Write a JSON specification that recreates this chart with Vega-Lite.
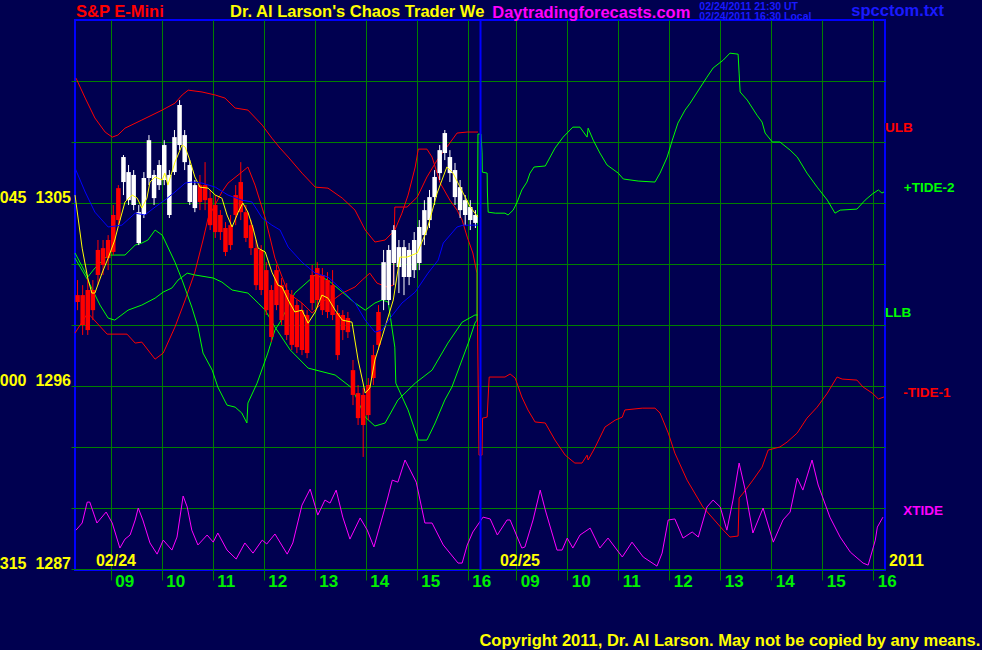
{
"$schema":"https://vega.github.io/schema/vega-lite/v6.json",
"width":810,"height":550,
"autosize":{"type":"none"},
"padding":{"left":75,"top":20,"right":97,"bottom":80},
"background":"#000050",
"config":{"view":{"stroke":"#0000ff","strokeWidth":2,"fill":"#000050"}},
"resolve":{"scale":{"color":"independent"}},
"datasets":{
"bands":[
{"s":"R1","t":8.32,"p":1311.14},{"s":"R1","t":8.50,"p":1310.16},{"s":"R1","t":8.69,"p":1309.18},{"s":"R1","t":8.89,"p":1308.49},{"s":"R1","t":9.03,"p":1308.24},{"s":"R1","t":9.14,"p":1308.34},{"s":"R1","t":9.28,"p":1308.68},{"s":"R1","t":9.61,"p":1309.08},{"s":"R1","t":10.01,"p":1309.57},{"s":"R1","t":10.26,"p":1309.91},{"s":"R1","t":10.40,"p":1310.31},{"s":"R1","t":10.52,"p":1310.55},{"s":"R1","t":10.79,"p":1310.46},{"s":"R1","t":11.05,"p":1310.31},{"s":"R1","t":11.24,"p":1310.16},{"s":"R1","t":11.44,"p":1309.67},{"s":"R1","t":11.69,"p":1309.57},{"s":"R1","t":11.97,"p":1308.83},{"s":"R1","t":12.16,"p":1308.19},{"s":"R1","t":12.32,"p":1307.70},{"s":"R1","t":12.48,"p":1307.26},{"s":"R1","t":12.75,"p":1306.47},{"s":"R1","t":13.01,"p":1305.78},{"s":"R1","t":13.26,"p":1305.73},{"s":"R1","t":13.54,"p":1305.24},{"s":"R1","t":13.79,"p":1304.65},{"s":"R1","t":13.99,"p":1303.67},{"s":"R1","t":14.18,"p":1303.08},{"s":"R1","t":14.38,"p":1303.18},{"s":"R1","t":14.57,"p":1303.67},{"s":"R1","t":14.71,"p":1304.50},{"s":"R1","t":14.83,"p":1305.39},{"s":"R1","t":14.97,"p":1306.77},{"s":"R1","t":15.03,"p":1307.65},{"s":"R1","t":15.20,"p":1307.65},{"s":"R1","t":15.30,"p":1307.26},{"s":"R1","t":15.46,"p":1305.98},{"s":"R1","t":15.65,"p":1305.14},{"s":"R1","t":15.79,"p":1304.65},{"s":"R1","t":15.89,"p":1304.16},{"s":"R1","t":15.99,"p":1303.32},{"s":"R1","t":16.10,"p":1302.54},{"s":"R1","t":16.18,"p":1301.55},{"s":"R1","t":16.22,"p":1292.60},{"s":"R1","t":16.28,"p":1292.60},{"s":"R1","t":16.29,"p":1294.42},{"s":"R1","t":16.38,"p":1294.47},{"s":"R1","t":16.42,"p":1296.44},{"s":"R1","t":16.73,"p":1296.44},{"s":"R1","t":16.83,"p":1296.59},{"s":"R1","t":16.93,"p":1296.39},{"s":"R1","t":17.06,"p":1295.46},{"s":"R1","t":17.18,"p":1294.82},{"s":"R1","t":17.32,"p":1294.23},{"s":"R1","t":17.52,"p":1294.18},{"s":"R1","t":17.71,"p":1293.34},{"s":"R1","t":17.91,"p":1292.60},{"s":"R1","t":18.10,"p":1292.21},{"s":"R1","t":18.24,"p":1292.21},{"s":"R1","t":18.34,"p":1292.60},{"s":"R1","t":18.36,"p":1292.36},{"s":"R1","t":18.50,"p":1293.00},{"s":"R1","t":18.69,"p":1293.98},{"s":"R1","t":18.89,"p":1294.32},{"s":"R1","t":19.03,"p":1294.47},{"s":"R1","t":19.08,"p":1294.82},{"s":"R1","t":19.42,"p":1294.91},{"s":"R1","t":19.67,"p":1294.91},{"s":"R1","t":19.77,"p":1294.67},{"s":"R1","t":19.93,"p":1293.69},{"s":"R1","t":20.06,"p":1292.70},{"s":"R1","t":20.30,"p":1291.37},{"s":"R1","t":20.61,"p":1290.05},{"s":"R1","t":21.01,"p":1288.91},{"s":"R1","t":21.14,"p":1288.57},{"s":"R1","t":21.30,"p":1288.62},{"s":"R1","t":21.32,"p":1290.49},{"s":"R1","t":21.40,"p":1290.73},{"s":"R1","t":21.59,"p":1291.37},{"s":"R1","t":21.77,"p":1292.01},{"s":"R1","t":21.89,"p":1292.85},{"s":"R1","t":22.12,"p":1293.00},{"s":"R1","t":22.26,"p":1293.24},{"s":"R1","t":22.46,"p":1293.69},{"s":"R1","t":22.65,"p":1294.42},{"s":"R1","t":22.85,"p":1294.96},{"s":"R1","t":23.05,"p":1295.65},{"s":"R1","t":23.24,"p":1296.44},{"s":"R1","t":23.34,"p":1296.34},{"s":"R1","t":23.63,"p":1296.29},{"s":"R1","t":23.75,"p":1295.95},{"s":"R1","t":23.93,"p":1295.65},{"s":"R1","t":24.05,"p":1295.36},{"s":"R1","t":24.16,"p":1295.46},
{"s":"R2","t":8.30,"p":1298.60},{"s":"R2","t":8.55,"p":1299.59},{"s":"R2","t":8.93,"p":1298.55},{"s":"R2","t":9.32,"p":1298.55},{"s":"R2","t":9.48,"p":1298.11},{"s":"R2","t":9.61,"p":1298.16},{"s":"R2","t":9.87,"p":1297.32},{"s":"R2","t":10.03,"p":1297.62},{"s":"R2","t":10.26,"p":1298.90},{"s":"R2","t":10.46,"p":1300.23},{"s":"R2","t":10.65,"p":1301.60},{"s":"R2","t":10.81,"p":1303.18},{"s":"R2","t":10.91,"p":1304.26},{"s":"R2","t":11.18,"p":1305.54},{"s":"R2","t":11.30,"p":1305.98},{"s":"R2","t":11.57,"p":1306.52},{"s":"R2","t":11.69,"p":1306.77},{"s":"R2","t":11.83,"p":1305.88},{"s":"R2","t":12.03,"p":1304.26},{"s":"R2","t":12.22,"p":1302.29},{"s":"R2","t":12.48,"p":1300.57},{"s":"R2","t":12.75,"p":1300.08},{"s":"R2","t":12.95,"p":1299.59},{"s":"R2","t":13.20,"p":1300.23},{"s":"R2","t":13.36,"p":1300.23},{"s":"R2","t":13.54,"p":1300.57},{"s":"R2","t":13.79,"p":1300.87},{"s":"R2","t":13.93,"p":1301.21},{"s":"R2","t":14.08,"p":1301.55},{"s":"R2","t":14.22,"p":1301.06},{"s":"R2","t":14.42,"p":1300.87},{"s":"R2","t":14.54,"p":1300.96},{"s":"R2","t":14.57,"p":1304.80},{"s":"R2","t":14.81,"p":1304.80},{"s":"R2","t":15.01,"p":1305.29},{"s":"R2","t":15.20,"p":1306.28},{"s":"R2","t":15.40,"p":1307.11},{"s":"R2","t":15.59,"p":1307.75},{"s":"R2","t":15.79,"p":1308.44},{"s":"R2","t":15.99,"p":1308.49},{"s":"R2","t":16.20,"p":1308.49},
{"s":"G1","t":8.30,"p":1302.29},{"s":"G1","t":8.55,"p":1301.21},{"s":"G1","t":8.79,"p":1299.98},{"s":"G1","t":8.95,"p":1299.34},{"s":"G1","t":9.08,"p":1299.24},{"s":"G1","t":9.34,"p":1299.73},{"s":"G1","t":9.61,"p":1299.98},{"s":"G1","t":9.87,"p":1300.32},{"s":"G1","t":10.03,"p":1300.62},{"s":"G1","t":10.20,"p":1300.82},{"s":"G1","t":10.32,"p":1301.21},{"s":"G1","t":10.50,"p":1301.55},{"s":"G1","t":10.65,"p":1301.46},{"s":"G1","t":11.01,"p":1301.31},{"s":"G1","t":11.18,"p":1301.11},{"s":"G1","t":11.38,"p":1300.72},{"s":"G1","t":11.69,"p":1300.57},{"s":"G1","t":11.89,"p":1300.08},{"s":"G1","t":12.03,"p":1299.73},{"s":"G1","t":12.22,"p":1298.90},{"s":"G1","t":12.52,"p":1297.77},{"s":"G1","t":12.87,"p":1296.88},{"s":"G1","t":13.40,"p":1296.54},{"s":"G1","t":13.73,"p":1295.90},{"s":"G1","t":13.99,"p":1294.47},{"s":"G1","t":14.18,"p":1294.03},{"s":"G1","t":14.38,"p":1294.18},{"s":"G1","t":14.63,"p":1295.31},{"s":"G1","t":14.97,"p":1296.14},{"s":"G1","t":15.30,"p":1296.78},{"s":"G1","t":15.61,"p":1298.11},{"s":"G1","t":15.89,"p":1299.14},{"s":"G1","t":16.14,"p":1299.49},{"s":"G1","t":16.20,"p":1299.49},
{"s":"G2","t":8.30,"p":1302.54},{"s":"G2","t":8.55,"p":1301.36},{"s":"G2","t":8.69,"p":1301.80},{"s":"G2","t":8.95,"p":1302.44},{"s":"G2","t":9.28,"p":1302.44},{"s":"G2","t":9.48,"p":1302.93},{"s":"G2","t":9.61,"p":1303.03},{"s":"G2","t":9.73,"p":1303.18},{"s":"G2","t":9.87,"p":1303.67},{"s":"G2","t":10.01,"p":1303.42},{"s":"G2","t":10.26,"p":1302.09},{"s":"G2","t":10.40,"p":1301.21},{"s":"G2","t":10.59,"p":1299.88},{"s":"G2","t":10.71,"p":1298.90},{"s":"G2","t":10.81,"p":1297.62},{"s":"G2","t":10.99,"p":1296.78},{"s":"G2","t":11.10,"p":1295.95},{"s":"G2","t":11.28,"p":1295.06},{"s":"G2","t":11.44,"p":1294.96},{"s":"G2","t":11.57,"p":1294.67},{"s":"G2","t":11.67,"p":1294.18},{"s":"G2","t":11.69,"p":1295.16},{"s":"G2","t":11.87,"p":1296.14},{"s":"G2","t":12.08,"p":1297.62},{"s":"G2","t":12.22,"p":1298.75},{"s":"G2","t":12.32,"p":1299.14},{"s":"G2","t":12.61,"p":1300.57},{"s":"G2","t":13.01,"p":1301.46},{"s":"G2","t":13.26,"p":1301.21},{"s":"G2","t":13.54,"p":1300.62},{"s":"G2","t":13.79,"p":1300.08},{"s":"G2","t":13.99,"p":1299.73},{"s":"G2","t":14.18,"p":1300.08},{"s":"G2","t":14.32,"p":1300.23},{"s":"G2","t":14.44,"p":1300.13},{"s":"G2","t":14.57,"p":1297.91},{"s":"G2","t":14.59,"p":1296.14},{"s":"G2","t":14.83,"p":1294.82},{"s":"G2","t":15.03,"p":1293.34},{"s":"G2","t":15.20,"p":1293.34},{"s":"G2","t":15.36,"p":1294.18},{"s":"G2","t":15.55,"p":1295.31},{"s":"G2","t":15.69,"p":1295.95},{"s":"G2","t":16.01,"p":1298.11},{"s":"G2","t":16.14,"p":1299.09},{"s":"G2","t":16.18,"p":1299.24},{"s":"G2","t":16.20,"p":1308.39},{"s":"G2","t":16.26,"p":1308.39},{"s":"G2","t":16.28,"p":1307.46},{"s":"G2","t":16.285,"p":1306.52},{"s":"G2","t":16.38,"p":1306.47},{"s":"G2","t":16.385,"p":1305.54},{"s":"G2","t":16.40,"p":1304.55},{"s":"G2","t":16.54,"p":1304.50},{"s":"G2","t":16.73,"p":1304.50},{"s":"G2","t":16.79,"p":1304.41},{"s":"G2","t":16.89,"p":1304.65},{"s":"G2","t":16.97,"p":1305.05},{"s":"G2","t":17.06,"p":1305.64},{"s":"G2","t":17.16,"p":1306.03},{"s":"G2","t":17.22,"p":1306.47},{"s":"G2","t":17.30,"p":1306.77},{"s":"G2","t":17.52,"p":1306.82},{"s":"G2","t":17.71,"p":1307.70},{"s":"G2","t":17.87,"p":1308.24},{"s":"G2","t":18.06,"p":1308.73},{"s":"G2","t":18.20,"p":1308.73},{"s":"G2","t":18.34,"p":1308.24},{"s":"G2","t":18.36,"p":1308.68},{"s":"G2","t":18.46,"p":1308.09},{"s":"G2","t":18.59,"p":1307.46},{"s":"G2","t":18.73,"p":1306.87},{"s":"G2","t":18.95,"p":1306.47},{"s":"G2","t":19.05,"p":1306.18},{"s":"G2","t":19.34,"p":1306.08},{"s":"G2","t":19.67,"p":1306.03},{"s":"G2","t":19.77,"p":1306.47},{"s":"G2","t":19.91,"p":1307.26},{"s":"G2","t":20.01,"p":1308.09},{"s":"G2","t":20.12,"p":1308.93},{"s":"G2","t":20.26,"p":1309.57},{"s":"G2","t":20.36,"p":1309.91},{"s":"G2","t":20.55,"p":1310.65},{"s":"G2","t":20.69,"p":1311.19},{"s":"G2","t":20.81,"p":1311.64},{"s":"G2","t":21.01,"p":1312.03},{"s":"G2","t":21.14,"p":1312.37},{"s":"G2","t":21.30,"p":1312.32},{"s":"G2","t":21.32,"p":1311.39},{"s":"G2","t":21.34,"p":1310.46},{"s":"G2","t":21.48,"p":1310.06},{"s":"G2","t":21.67,"p":1309.32},{"s":"G2","t":21.77,"p":1308.98},{"s":"G2","t":21.83,"p":1308.44},{"s":"G2","t":21.97,"p":1308.00},{"s":"G2","t":22.12,"p":1308.00},{"s":"G2","t":22.32,"p":1307.60},{"s":"G2","t":22.46,"p":1307.26},{"s":"G2","t":22.65,"p":1306.47},{"s":"G2","t":22.85,"p":1305.78},{"s":"G2","t":23.05,"p":1305.14},{"s":"G2","t":23.20,"p":1304.50},{"s":"G2","t":23.30,"p":1304.65},{"s":"G2","t":23.63,"p":1304.70},{"s":"G2","t":23.79,"p":1305.14},{"s":"G2","t":23.93,"p":1305.44},{"s":"G2","t":24.05,"p":1305.64},{"s":"G2","t":24.12,"p":1305.49},{"s":"G2","t":24.16,"p":1305.54}
],
"candles":[
{"t":8.35,"lo":1300.13,"hi":1300.47,"wl":1299.73,"wh":1301.21,"d":"dn"},
{"t":8.45,"lo":1299.00,"hi":1300.47,"wl":1298.51,"wh":1300.96,"d":"dn"},
{"t":8.55,"lo":1298.75,"hi":1300.72,"wl":1298.51,"wh":1301.31,"d":"dn"},
{"t":8.65,"lo":1299.73,"hi":1300.72,"wl":1299.24,"wh":1301.21,"d":"dn"},
{"t":8.75,"lo":1301.46,"hi":1302.69,"wl":1300.96,"wh":1303.18,"d":"dn"},
{"t":8.85,"lo":1301.95,"hi":1302.78,"wl":1301.46,"wh":1303.18,"d":"dn"},
{"t":8.95,"lo":1302.29,"hi":1303.18,"wl":1301.70,"wh":1303.42,"d":"dn"},
{"t":9.05,"lo":1302.59,"hi":1304.41,"wl":1302.44,"wh":1304.90,"d":"dn"},
{"t":9.15,"lo":1304.16,"hi":1305.73,"wl":1303.91,"wh":1305.88,"d":"dn"},
{"t":9.25,"lo":1306.03,"hi":1307.26,"wl":1305.39,"wh":1307.36,"d":"up"},
{"t":9.35,"lo":1305.14,"hi":1306.52,"wl":1304.90,"wh":1306.87,"d":"up"},
{"t":9.45,"lo":1304.90,"hi":1306.38,"wl":1304.65,"wh":1306.62,"d":"up"},
{"t":9.55,"lo":1303.03,"hi":1304.55,"wl":1302.93,"wh":1304.90,"d":"up"},
{"t":9.65,"lo":1304.41,"hi":1306.23,"wl":1304.26,"wh":1306.52,"d":"up"},
{"t":9.75,"lo":1306.23,"hi":1308.09,"wl":1305.88,"wh":1308.34,"d":"up"},
{"t":9.85,"lo":1305.24,"hi":1306.38,"wl":1304.90,"wh":1306.62,"d":"up"},
{"t":9.95,"lo":1305.88,"hi":1306.87,"wl":1305.64,"wh":1307.11,"d":"up"},
{"t":10.05,"lo":1306.13,"hi":1307.85,"wl":1305.88,"wh":1308.09,"d":"up"},
{"t":10.15,"lo":1304.41,"hi":1306.38,"wl":1304.26,"wh":1306.62,"d":"up"},
{"t":10.25,"lo":1306.52,"hi":1308.24,"wl":1306.38,"wh":1308.59,"d":"up"},
{"t":10.35,"lo":1307.85,"hi":1309.82,"wl":1307.60,"wh":1310.06,"d":"up"},
{"t":10.45,"lo":1307.01,"hi":1308.34,"wl":1306.62,"wh":1308.59,"d":"up"},
{"t":10.55,"lo":1305.05,"hi":1306.87,"wl":1304.90,"wh":1307.11,"d":"up"},
{"t":10.65,"lo":1304.75,"hi":1305.88,"wl":1304.55,"wh":1306.13,"d":"up"},
{"t":10.75,"lo":1305.05,"hi":1305.88,"wl":1304.65,"wh":1306.38,"d":"dn"},
{"t":10.85,"lo":1305.14,"hi":1305.88,"wl":1304.65,"wh":1307.01,"d":"dn"},
{"t":10.95,"lo":1303.91,"hi":1305.24,"wl":1303.67,"wh":1305.64,"d":"dn"},
{"t":11.05,"lo":1303.57,"hi":1304.90,"wl":1303.28,"wh":1305.39,"d":"dn"},
{"t":11.15,"lo":1303.57,"hi":1304.41,"wl":1303.18,"wh":1304.65,"d":"dn"},
{"t":11.25,"lo":1302.59,"hi":1303.77,"wl":1302.39,"wh":1304.06,"d":"dn"},
{"t":11.35,"lo":1302.93,"hi":1303.91,"wl":1302.69,"wh":1304.41,"d":"dn"},
{"t":11.45,"lo":1304.41,"hi":1305.39,"wl":1303.91,"wh":1305.88,"d":"dn"},
{"t":11.55,"lo":1304.55,"hi":1306.03,"wl":1304.16,"wh":1307.01,"d":"dn"},
{"t":11.65,"lo":1303.28,"hi":1304.55,"wl":1303.08,"wh":1304.90,"d":"dn"},
{"t":11.75,"lo":1302.78,"hi":1303.91,"wl":1302.44,"wh":1304.16,"d":"dn"},
{"t":11.85,"lo":1300.96,"hi":1302.78,"wl":1300.72,"wh":1303.18,"d":"dn"},
{"t":11.95,"lo":1300.72,"hi":1302.69,"wl":1300.47,"wh":1302.93,"d":"dn"},
{"t":12.05,"lo":1299.73,"hi":1301.70,"wl":1299.49,"wh":1302.09,"d":"dn"},
{"t":12.15,"lo":1298.41,"hi":1300.72,"wl":1298.16,"wh":1300.96,"d":"dn"},
{"t":12.25,"lo":1299.98,"hi":1301.70,"wl":1299.73,"wh":1301.95,"d":"dn"},
{"t":12.35,"lo":1299.24,"hi":1300.96,"wl":1299.00,"wh":1301.31,"d":"dn"},
{"t":12.45,"lo":1298.51,"hi":1300.72,"wl":1298.26,"wh":1301.06,"d":"dn"},
{"t":12.55,"lo":1298.02,"hi":1300.47,"wl":1297.77,"wh":1300.72,"d":"dn"},
{"t":12.65,"lo":1297.91,"hi":1299.98,"wl":1297.62,"wh":1300.23,"d":"dn"},
{"t":12.75,"lo":1297.77,"hi":1299.73,"wl":1297.52,"wh":1300.08,"d":"dn"},
{"t":12.85,"lo":1297.62,"hi":1299.49,"wl":1297.37,"wh":1299.73,"d":"dn"},
{"t":12.95,"lo":1300.08,"hi":1301.46,"wl":1299.73,"wh":1301.95,"d":"dn"},
{"t":13.05,"lo":1300.23,"hi":1301.80,"wl":1299.83,"wh":1302.09,"d":"dn"},
{"t":13.15,"lo":1299.73,"hi":1301.46,"wl":1299.49,"wh":1301.80,"d":"dn"},
{"t":13.25,"lo":1299.64,"hi":1301.21,"wl":1299.34,"wh":1301.60,"d":"dn"},
{"t":13.35,"lo":1299.49,"hi":1300.96,"wl":1299.24,"wh":1301.70,"d":"dn"},
{"t":13.45,"lo":1297.52,"hi":1299.59,"wl":1297.28,"wh":1299.98,"d":"dn"},
{"t":13.55,"lo":1298.75,"hi":1299.49,"wl":1298.26,"wh":1299.73,"d":"dn"},
{"t":13.65,"lo":1298.65,"hi":1299.34,"wl":1298.36,"wh":1299.64,"d":"dn"},
{"t":13.75,"lo":1295.56,"hi":1296.78,"wl":1295.06,"wh":1297.28,"d":"dn"},
{"t":13.85,"lo":1294.42,"hi":1295.65,"wl":1294.08,"wh":1296.05,"d":"dn"},
{"t":13.95,"lo":1294.08,"hi":1295.56,"wl":1292.51,"wh":1295.90,"d":"dn"},
{"t":14.05,"lo":1294.57,"hi":1296.05,"wl":1294.32,"wh":1296.39,"d":"dn"},
{"t":14.15,"lo":1296.39,"hi":1297.52,"wl":1296.05,"wh":1298.02,"d":"dn"},
{"t":14.25,"lo":1298.02,"hi":1299.64,"wl":1297.77,"wh":1299.98,"d":"dn"},
{"t":14.35,"lo":1300.23,"hi":1302.09,"wl":1299.73,"wh":1302.69,"d":"up"},
{"t":14.45,"lo":1300.23,"hi":1302.69,"wl":1299.98,"wh":1302.93,"d":"up"},
{"t":14.55,"lo":1302.05,"hi":1303.67,"wl":1300.96,"wh":1303.91,"d":"up"},
{"t":14.65,"lo":1301.85,"hi":1302.83,"wl":1300.57,"wh":1303.18,"d":"up"},
{"t":14.75,"lo":1301.36,"hi":1302.83,"wl":1300.47,"wh":1303.18,"d":"up"},
{"t":14.85,"lo":1301.36,"hi":1302.69,"wl":1300.96,"wh":1303.03,"d":"up"},
{"t":14.95,"lo":1301.70,"hi":1303.18,"wl":1301.31,"wh":1303.57,"d":"up"},
{"t":15.05,"lo":1302.05,"hi":1303.82,"wl":1301.70,"wh":1304.16,"d":"up"},
{"t":15.15,"lo":1303.42,"hi":1304.65,"wl":1302.93,"wh":1305.14,"d":"up"},
{"t":15.25,"lo":1304.16,"hi":1305.29,"wl":1303.77,"wh":1305.64,"d":"up"},
{"t":15.35,"lo":1305.29,"hi":1306.28,"wl":1304.90,"wh":1306.62,"d":"up"},
{"t":15.45,"lo":1306.47,"hi":1307.60,"wl":1306.13,"wh":1307.85,"d":"up"},
{"t":15.55,"lo":1307.46,"hi":1308.44,"wl":1307.11,"wh":1308.59,"d":"up"},
{"t":15.65,"lo":1306.47,"hi":1307.26,"wl":1306.03,"wh":1307.60,"d":"up"},
{"t":15.75,"lo":1305.29,"hi":1306.62,"wl":1304.90,"wh":1306.97,"d":"up"},
{"t":15.85,"lo":1304.65,"hi":1305.78,"wl":1304.26,"wh":1306.13,"d":"up"},
{"t":15.95,"lo":1304.41,"hi":1305.14,"wl":1303.91,"wh":1305.39,"d":"up"},
{"t":16.05,"lo":1304.16,"hi":1304.80,"wl":1303.67,"wh":1305.14,"d":"up"},
{"t":16.15,"lo":1304.02,"hi":1304.41,"wl":1303.77,"wh":1304.65,"d":"up"}
],
"mas":[
{"s":"Y","t":8.30,"p":1305.39},{"s":"Y","t":8.44,"p":1302.78},{"s":"Y","t":8.55,"p":1301.31},{"s":"Y","t":8.63,"p":1300.57},{"s":"Y","t":8.69,"p":1300.57},{"s":"Y","t":8.83,"p":1301.55},{"s":"Y","t":8.95,"p":1302.29},{"s":"Y","t":9.08,"p":1303.18},{"s":"Y","t":9.14,"p":1303.77},{"s":"Y","t":9.28,"p":1305.05},{"s":"Y","t":9.42,"p":1305.39},{"s":"Y","t":9.52,"p":1305.24},{"s":"Y","t":9.61,"p":1304.75},{"s":"Y","t":9.71,"p":1305.24},{"s":"Y","t":9.77,"p":1306.03},{"s":"Y","t":9.87,"p":1306.28},{"s":"Y","t":10.01,"p":1306.13},{"s":"Y","t":10.06,"p":1306.47},{"s":"Y","t":10.12,"p":1305.88},{"s":"Y","t":10.26,"p":1307.01},{"s":"Y","t":10.40,"p":1307.85},{"s":"Y","t":10.46,"p":1307.75},{"s":"Y","t":10.55,"p":1307.11},{"s":"Y","t":10.65,"p":1306.28},{"s":"Y","t":10.75,"p":1305.78},{"s":"Y","t":10.91,"p":1305.73},{"s":"Y","t":11.05,"p":1305.39},{"s":"Y","t":11.18,"p":1305.24},{"s":"Y","t":11.28,"p":1304.41},{"s":"Y","t":11.38,"p":1303.82},{"s":"Y","t":11.50,"p":1304.55},{"s":"Y","t":11.59,"p":1305.00},{"s":"Y","t":11.69,"p":1304.55},{"s":"Y","t":11.79,"p":1303.77},{"s":"Y","t":11.89,"p":1302.78},{"s":"Y","t":12.03,"p":1302.59},{"s":"Y","t":12.16,"p":1301.60},{"s":"Y","t":12.28,"p":1300.96},{"s":"Y","t":12.36,"p":1300.87},{"s":"Y","t":12.48,"p":1300.23},{"s":"Y","t":12.61,"p":1299.64},{"s":"Y","t":12.75,"p":1299.73},{"s":"Y","t":12.87,"p":1299.09},{"s":"Y","t":13.01,"p":1299.64},{"s":"Y","t":13.14,"p":1300.47},{"s":"Y","t":13.26,"p":1300.32},{"s":"Y","t":13.40,"p":1299.73},{"s":"Y","t":13.54,"p":1299.24},{"s":"Y","t":13.73,"p":1299.14},{"s":"Y","t":13.85,"p":1297.28},{"s":"Y","t":13.99,"p":1295.65},{"s":"Y","t":14.08,"p":1295.90},{"s":"Y","t":14.18,"p":1297.28},{"s":"Y","t":14.32,"p":1298.41},{"s":"Y","t":14.42,"p":1299.24},{"s":"Y","t":14.54,"p":1300.23},{"s":"Y","t":14.67,"p":1302.34},{"s":"Y","t":14.81,"p":1302.34},{"s":"Y","t":15.01,"p":1302.54},{"s":"Y","t":15.20,"p":1303.67},{"s":"Y","t":15.40,"p":1305.49},{"s":"Y","t":15.59,"p":1306.77},{"s":"Y","t":15.71,"p":1306.47},{"s":"Y","t":15.85,"p":1305.78},{"s":"Y","t":16.05,"p":1304.80},{"s":"Y","t":16.20,"p":1304.31},
{"s":"B","t":8.30,"p":1306.72},{"s":"B","t":8.50,"p":1305.54},{"s":"B","t":8.69,"p":1304.55},{"s":"B","t":8.95,"p":1303.82},{"s":"B","t":9.22,"p":1303.91},{"s":"B","t":9.48,"p":1304.50},{"s":"B","t":9.67,"p":1304.41},{"s":"B","t":9.87,"p":1304.80},{"s":"B","t":10.06,"p":1305.14},{"s":"B","t":10.26,"p":1305.54},{"s":"B","t":10.46,"p":1305.98},{"s":"B","t":10.59,"p":1306.03},{"s":"B","t":10.79,"p":1305.98},{"s":"B","t":11.05,"p":1305.78},{"s":"B","t":11.30,"p":1305.39},{"s":"B","t":11.57,"p":1305.14},{"s":"B","t":11.77,"p":1305.05},{"s":"B","t":11.97,"p":1304.26},{"s":"B","t":12.16,"p":1303.91},{"s":"B","t":12.32,"p":1303.67},{"s":"B","t":12.48,"p":1302.83},{"s":"B","t":12.75,"p":1302.09},{"s":"B","t":13.01,"p":1301.55},{"s":"B","t":13.26,"p":1301.36},{"s":"B","t":13.54,"p":1300.72},{"s":"B","t":13.79,"p":1300.08},{"s":"B","t":13.99,"p":1299.24},{"s":"B","t":14.18,"p":1298.65},{"s":"B","t":14.32,"p":1298.75},{"s":"B","t":14.48,"p":1299.34},{"s":"B","t":14.71,"p":1300.08},{"s":"B","t":14.97,"p":1300.62},{"s":"B","t":15.22,"p":1301.55},{"s":"B","t":15.42,"p":1302.19},{"s":"B","t":15.52,"p":1303.03},{"s":"B","t":15.79,"p":1303.82},{"s":"B","t":15.91,"p":1303.91},{"s":"B","t":16.20,"p":1303.91}
],
"xtide":[
{"t":8.32,"p":1288.91},{"t":8.44,"p":1289.26},{"t":8.54,"p":1290.29},{"t":8.59,"p":1290.29},{"t":8.73,"p":1289.26},{"t":8.91,"p":1289.80},{"t":9.03,"p":1289.26},{"t":9.18,"p":1288.03},{"t":9.28,"p":1288.47},{"t":9.38,"p":1288.67},{"t":9.48,"p":1289.41},{"t":9.54,"p":1290.00},{"t":9.63,"p":1289.41},{"t":9.77,"p":1288.28},{"t":9.91,"p":1287.73},{"t":10.03,"p":1288.42},{"t":10.20,"p":1287.93},{"t":10.30,"p":1288.57},{"t":10.42,"p":1290.59},{"t":10.50,"p":1290.05},{"t":10.59,"p":1288.91},{"t":10.71,"p":1288.18},{"t":10.89,"p":1288.67},{"t":11.01,"p":1288.32},{"t":11.10,"p":1288.77},{"t":11.28,"p":1287.93},{"t":11.46,"p":1287.49},{"t":11.63,"p":1288.28},{"t":11.79,"p":1287.78},{"t":11.97,"p":1288.42},{"t":12.06,"p":1288.23},{"t":12.22,"p":1288.72},{"t":12.46,"p":1287.73},{"t":12.57,"p":1288.28},{"t":12.75,"p":1290.14},{"t":12.91,"p":1290.93},{"t":13.06,"p":1289.65},{"t":13.20,"p":1290.39},{"t":13.30,"p":1290.24},{"t":13.42,"p":1290.88},{"t":13.55,"p":1289.55},{"t":13.69,"p":1288.47},{"t":13.89,"p":1289.51},{"t":14.03,"p":1288.91},{"t":14.16,"p":1288.08},{"t":14.42,"p":1290.39},{"t":14.52,"p":1291.37},{"t":14.63,"p":1291.27},{"t":14.77,"p":1292.36},{"t":14.87,"p":1291.87},{"t":14.99,"p":1291.27},{"t":15.16,"p":1289.26},{"t":15.30,"p":1289.26},{"t":15.52,"p":1288.18},{"t":15.81,"p":1287.29},{"t":15.89,"p":1287.29},{"t":15.99,"p":1288.18},{"t":16.10,"p":1288.82},{"t":16.30,"p":1289.55},{"t":16.44,"p":1289.46},{"t":16.58,"p":1288.67},{"t":16.77,"p":1289.41},{"t":16.83,"p":1289.41},{"t":17.06,"p":1288.03},{"t":17.12,"p":1288.08},{"t":17.28,"p":1289.41},{"t":17.42,"p":1290.88},{"t":17.52,"p":1289.90},{"t":17.75,"p":1287.93},{"t":17.85,"p":1287.93},{"t":17.95,"p":1288.52},{"t":18.06,"p":1288.03},{"t":18.20,"p":1288.67},{"t":18.40,"p":1289.01},{"t":18.59,"p":1288.03},{"t":18.75,"p":1288.52},{"t":19.03,"p":1287.59},{"t":19.22,"p":1288.32},{"t":19.44,"p":1287.59},{"t":19.71,"p":1287.14},{"t":19.81,"p":1287.78},{"t":19.93,"p":1289.41},{"t":20.06,"p":1289.46},{"t":20.22,"p":1288.52},{"t":20.40,"p":1288.82},{"t":20.52,"p":1288.57},{"t":20.69,"p":1290.05},{"t":20.81,"p":1290.39},{"t":20.95,"p":1290.05},{"t":21.08,"p":1288.91},{"t":21.20,"p":1290.39},{"t":21.32,"p":1292.21},{"t":21.44,"p":1290.88},{"t":21.59,"p":1288.77},{"t":21.79,"p":1290.00},{"t":21.99,"p":1288.32},{"t":22.18,"p":1289.41},{"t":22.32,"p":1289.80},{"t":22.46,"p":1291.47},{"t":22.57,"p":1290.88},{"t":22.75,"p":1292.36},{"t":22.87,"p":1291.13},{"t":23.10,"p":1289.55},{"t":23.30,"p":1288.57},{"t":23.50,"p":1287.83},{"t":23.75,"p":1287.29},{"t":23.85,"p":1287.19},{"t":23.99,"p":1288.42},{"t":24.03,"p":1289.06},{"t":24.14,"p":1289.55}
]
},
"encoding":{
"x":{"field":"t","type":"quantitative","scale":{"domain":[8.3,24.18],"nice":false,"zero":false},
"axis":{"title":null,"values":[9,10,11,12,13,14,15,16,16.95,17.95,18.95,19.95,20.95,21.95,22.95,23.95],"grid":true,"gridColor":"#008000","gridWidth":1,"domain":false,"tickColor":"#008000","tickSize":10,"tickWidth":1,"labelColor":"#00f000","labelFont":"Liberation Sans, Arial, sans-serif","labelFontSize":17,"labelFontWeight":"bold","labelAlign":"left","labelBaseline":"top","labelOffset":4,"labelPadding":-7,"labelFlush":false,"labelOverlap":false,"labelBound":false,"labelExpr":"format(round(datum.value < 16.2 ? datum.value : datum.value - 7.95), '02d')"}},
"y":{"field":"p","type":"quantitative","scale":{"domain":[1286.95,1314],"nice":false,"zero":false},
"axis":{"title":null,"values":[1287,1290,1293,1296,1299,1302,1305,1308,1311],"grid":true,"gridColor":"#008000","gridWidth":1,"domain":false,"tickColor":"#008000","tickSize":4,"labels":false}}
},
"layer":[
{"data":{"name":"bands"},"mark":{"type":"line","strokeWidth":1},
 "encoding":{"color":{"field":"s","type":"nominal","scale":{"domain":["R1","R2","G1","G2"],"range":["#ff0000","#ff0000","#00ff00","#00ff00"]},"legend":null}}},
{"data":{"name":"candles"},"mark":{"type":"rule","strokeWidth":1},
 "encoding":{
 "y":{"field":"wl","type":"quantitative","scale":{"domain":[1286.95,1314],"nice":false,"zero":false},"axis":{"title":null,"values":[1287,1290,1293,1296,1299,1302,1305,1308,1311],"grid":true,"gridColor":"#008000","gridWidth":1,"domain":false,"tickColor":"#008000","tickSize":4,"labels":false}},"y2":{"field":"wh"},
 "color":{"field":"d","type":"nominal","scale":{"domain":["up","dn"],"range":["#ffffff","#ff0000"]},"legend":null}}},
{"data":{"name":"candles"},"mark":{"type":"rule","strokeWidth":4.5},
 "encoding":{
 "y":{"field":"lo","type":"quantitative","scale":{"domain":[1286.95,1314],"nice":false,"zero":false},"axis":{"title":null,"values":[1287,1290,1293,1296,1299,1302,1305,1308,1311],"grid":true,"gridColor":"#008000","gridWidth":1,"domain":false,"tickColor":"#008000","tickSize":4,"labels":false}},"y2":{"field":"hi"},
 "color":{"field":"d","type":"nominal","scale":{"domain":["up","dn"],"range":["#ffffff","#ff0000"]},"legend":null}}},
{"data":{"name":"mas"},"mark":{"type":"line","strokeWidth":1},
 "encoding":{"color":{"field":"s","type":"nominal","scale":{"domain":["Y","B"],"range":["#ffff00","#0000ff"]},"legend":null}}},
{"data":{"name":"xtide"},"mark":{"type":"line","strokeWidth":1,"color":"#ff00ff"},"encoding":{}},
{"data":{"values":[{"t":16.25,"p":1286.95,"p2":1314}]},"mark":{"type":"rule","strokeWidth":2,"color":"#0000ff"},
 "encoding":{"y2":{"field":"p2"}}},
{"data":{"values":[{"t":8.3,"p":1305,"txt":"045\u00a0\u00a01305"},{"t":8.3,"p":1296,"txt":"000\u00a0\u00a01296"},{"t":8.3,"p":1287,"txt":"315\u00a0\u00a01287"}]},
 "mark":{"type":"text","align":"right","baseline":"alphabetic","dx":-4,"font":"Liberation Sans, Arial, sans-serif","fontSize":16,"fontWeight":"bold","color":"#ffff00"},
 "encoding":{"text":{"field":"txt"}}},
{"data":{"values":[{"t":8.32,"p":1314.14,"txt":"S&P E-Mini"},{"t":11.34,"p":1314.14,"txt":"Dr. Al Larson's Chaos Trader We"},{"t":16.48,"p":1314.10,"txt":"Daytradingforecasts.com"},{"t":23.52,"p":1314.19,"txt":"spcctom.txt"}]},
 "mark":{"type":"text","align":"left","baseline":"alphabetic","font":"Liberation Sans, Arial, sans-serif","fontSize":16.5,"fontWeight":"bold"},
 "encoding":{"text":{"field":"txt"},
 "color":{"field":"txt","type":"nominal","scale":{"domain":["S&P E-Mini","Dr. Al Larson's Chaos Trader We","Daytradingforecasts.com","spcctom.txt"],"range":["#ff0000","#ffff00","#ff00ff","#1a1aff"]},"legend":null}}},
{"data":{"values":[{"t":20.54,"p":1314.51,"txt":"02/24/2011 21:30 UT"},{"t":20.54,"p":1314.00,"txt":"02/24/2011 16:30 Local"}]},
 "mark":{"type":"text","align":"left","baseline":"alphabetic","font":"Liberation Sans, Arial, sans-serif","fontSize":10.5,"fontWeight":"bold","color":"#1a1aff"},
 "encoding":{"text":{"field":"txt"}}},
{"data":{"values":[{"t":26.05,"p":1283.21,"txt":"Copyright 2011, Dr. Al Larson. May not be copied by any means."}]},
 "mark":{"type":"text","align":"right","baseline":"alphabetic","font":"Liberation Sans, Arial, sans-serif","fontSize":16.5,"fontWeight":"bold","color":"#ffff00"},
 "encoding":{"text":{"field":"txt"}}},
{"data":{"values":[{"t":24.18,"p":1308.49,"txt":"ULB"},{"t":24.55,"p":1305.54,"txt":"+TIDE-2"},{"t":24.18,"p":1299.39,"txt":"LLB"},{"t":24.54,"p":1295.46,"txt":"-TIDE-1"},{"t":24.54,"p":1289.65,"txt":"XTIDE"}]},
 "mark":{"type":"text","align":"left","baseline":"alphabetic","font":"Liberation Sans, Arial, sans-serif","fontSize":13.5,"fontWeight":"bold"},
 "encoding":{"text":{"field":"txt"},
 "color":{"field":"txt","type":"nominal","scale":{"domain":["ULB","+TIDE-2","LLB","-TIDE-1","XTIDE"],"range":["#ff0000","#00ff00","#00ff00","#ff0000","#ff00ff"]},"legend":null}}},
{"data":{"values":[{"t":8.71,"p":1287.15,"txt":"02/24"},{"t":16.63,"p":1287.15,"txt":"02/25"},{"t":24.26,"p":1287.15,"txt":"2011"}]},
 "mark":{"type":"text","align":"left","baseline":"alphabetic","font":"Liberation Sans, Arial, sans-serif","fontSize":16,"fontWeight":"bold","color":"#ffff00"},
 "encoding":{"text":{"field":"txt"}}}
]
}
